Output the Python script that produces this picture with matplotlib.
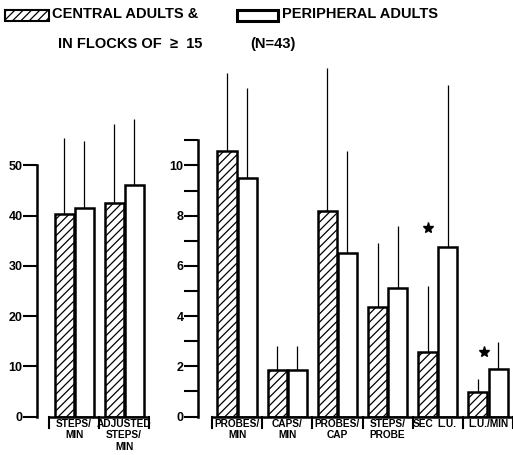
import numpy as np
import matplotlib
matplotlib.use("Agg")
import matplotlib.pyplot as plt
from matplotlib.patches import Rectangle

# data (means and upper SD)
left_labels = ["STEPS/\nMIN", "ADJUSTED\nSTEPS/\nMIN"]
left_central = [40.4, 42.6]
left_central_sd = [15.1, 15.6]
left_periph = [41.6, 46.2]
left_periph_sd = [13.2, 13.0]

# a tuple gives one label per bar instead of one per group
right_labels = ["PROBES/\nMIN", "CAPS/\nMIN", "PROBES/\nCAP", "STEPS/\nPROBE", ("SEC", "L.U."), "L.U./MIN"]
right_central = [10.56, 1.87, 8.17, 4.38, 2.55, 0.96]
right_central_sd = [3.14, 0.92, 5.73, 2.55, 2.63, 0.54]
right_periph = [9.48, 1.87, 6.53, 5.10, 6.77, 1.91]
right_periph_sd = [3.62, 0.92, 4.03, 2.47, 6.43, 1.04]

# significance stars: group index, height
star_groups = [4, 5]
star_heights = [7.5, 2.55]

plt.rcParams["font.family"] = ["Liberation Sans", "DejaVu Sans"]
plt.rcParams["font.weight"] = "bold"
plt.rcParams["hatch.linewidth"] = 0.9

W, H = 513, 455
fig = plt.figure(figsize=(W / 100, H / 100), dpi=100)


def px_axes(x0, x1, y_top, y_bot):
    return fig.add_axes([x0 / W, 1 - y_bot / H, (x1 - x0) / W, (y_bot - y_top) / H])


def draw_panel(ax, labels, central, c_sd, periph, p_sd, ytop, spine_top, xlim):
    x = np.arange(len(labels))
    off, width = 0.2, 0.38
    zeros = np.zeros(len(labels))
    ax.errorbar(x - off, central, yerr=[zeros, c_sd], fmt="none", ecolor="black",
                elinewidth=0.9, capsize=0, zorder=1)
    ax.errorbar(x + off, periph, yerr=[zeros, p_sd], fmt="none", ecolor="black",
                elinewidth=0.9, capsize=0, zorder=1)
    ax.bar(x - off, central, width, color="white", edgecolor="black", hatch="////",
           linewidth=1.8, zorder=2)
    ax.bar(x + off, periph, width, color="white", edgecolor="black",
           linewidth=1.8, zorder=2)
    ax.set_xlim(*xlim)
    ax.set_ylim(0, ytop)

    # bracket under the groups
    axh = ax.get_position().height * H
    d = 11 * ytop / axh
    ax.plot([-0.5, len(labels) - 0.5], [0, 0], color="black", lw=1.8,
            clip_on=False, solid_capstyle="butt")
    for b in np.arange(len(labels) + 1) - 0.5:
        ax.plot([b, b], [0, -d], color="black", lw=1.5, clip_on=False)
    for i, lab in enumerate(labels):
        if isinstance(lab, tuple):
            spots = [(i - 0.3, lab[0]), (i + 0.18, lab[1])]
        else:
            spots = [(i, lab)]
        for xi, t in spots:
            ax.annotate(t, (xi, 0), xytext=(0, -2), textcoords="offset points",
                        ha="center", va="top", fontsize=7.3, linespacing=1.15,
                        annotation_clip=False)

    for s in ["top", "right", "bottom"]:
        ax.spines[s].set_visible(False)
    ax.spines["left"].set_bounds(0, spine_top)
    ax.spines["left"].set_linewidth(1.8)
    ax.set_xticks([])
    ax.tick_params(axis="y", which="major", length=10, width=1.5, labelsize=9, pad=0.5)
    ax.tick_params(axis="y", which="minor", length=10, width=1.5)
    ax.patch.set_visible(False)


ax1 = px_axes(37, 150, 60, 416.5)
draw_panel(ax1, left_labels, left_central, left_central_sd, left_periph, left_periph_sd,
           71, 50, (-0.74, 1.52))
ax1.set_yticks([0, 10, 20, 30, 40, 50])

ax2 = px_axes(198, 513, 60, 416.5)
draw_panel(ax2, right_labels, right_central, right_central_sd, right_periph, right_periph_sd,
           14.2, 11, (-0.777, 5.498))
ax2.set_yticks([0, 2, 4, 6, 8, 10])
ax2.set_yticks([1, 3, 5, 7, 9, 11], minor=True)

ax2.plot(np.array(star_groups) - 0.2 + np.array([0, 0.12]), star_heights, marker="*",
         ms=8, color="black", linestyle="none", clip_on=False)

# legend
fig.patches.append(Rectangle((5 / W, 1 - 21 / H), 44 / W, 11 / H, transform=fig.transFigure,
                             facecolor="white", edgecolor="black", hatch="////", lw=1.5))
fig.patches.append(Rectangle((237 / W, 1 - 21 / H), 41 / W, 11 / H, transform=fig.transFigure,
                             facecolor="white", edgecolor="black", lw=2.2))
fig.text(52 / W, 1 - 14 / H, "CENTRAL ADULTS &", va="center", fontsize=10.5)
fig.text(58 / W, 1 - 44 / H, "IN FLOCKS OF  \u2265  15", va="center", fontsize=10.5)
fig.text(282 / W, 1 - 14 / H, "PERIPHERAL ADULTS", va="center", fontsize=10.5)
fig.text(250 / W, 1 - 44 / H, "(N=43)", va="center", fontsize=10.5)

fig.savefig("out.png", dpi=100)
